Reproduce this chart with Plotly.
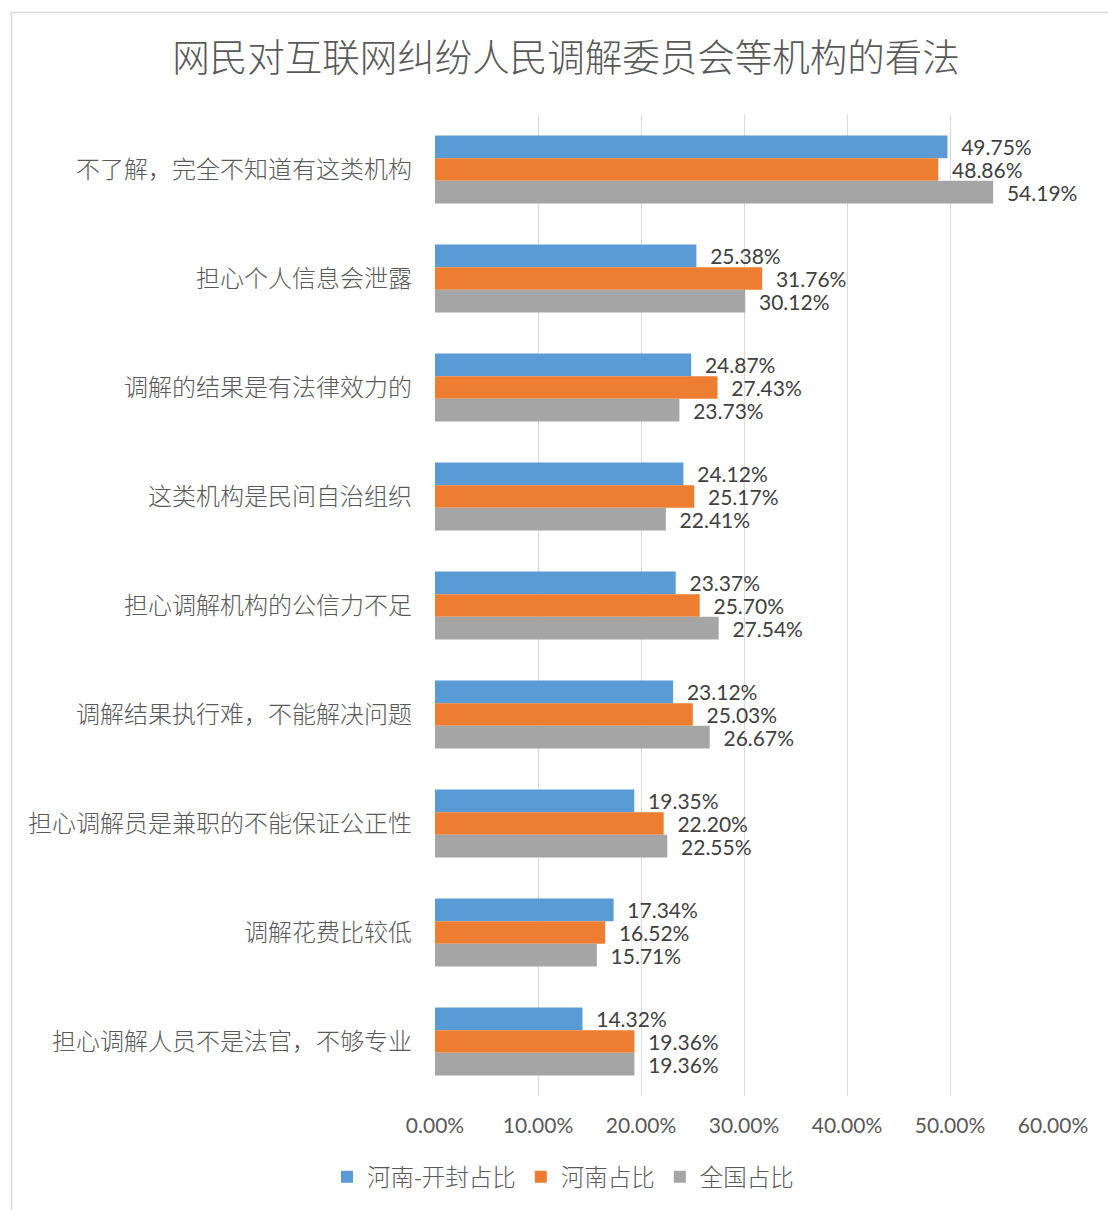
import plotly.graph_objects as go

categories = [
    "不了解，完全不知道有这类机构",
    "担心个人信息会泄露",
    "调解的结果是有法律效力的",
    "这类机构是民间自治组织",
    "担心调解机构的公信力不足",
    "调解结果执行难，不能解决问题",
    "担心调解员是兼职的不能保证公正性",
    "调解花费比较低",
    "担心调解人员不是法官，不够专业",
]
kaifeng = [49.75, 25.38, 24.87, 24.12, 23.37, 23.12, 19.35, 17.34, 14.32]
henan = [48.86, 31.76, 27.43, 25.17, 25.70, 25.03, 22.20, 16.52, 19.36]
national = [54.19, 30.12, 23.73, 22.41, 27.54, 26.67, 22.55, 15.71, 19.36]
series_names = ["河南-开封占比", "河南占比", "全国占比"]
colors = ["#5B9BD5", "#ED7D31", "#A5A5A5"]
tick_vals = [0, 10, 20, 30, 40, 50, 60]
title_text = "网民对互联网纠纷人民调解委员会等机构的看法"

W, H = 1108, 1210
L, R, T, B = 435, 55, 115, 114
pw = W - L - R
ph = H - T - B

CJK = "Noto Sans CJK SC"
NUM = "Lato, Noto Sans CJK SC"

fig = go.Figure()
for name, vals, col in zip(series_names, [kaifeng, henan, national], colors):
    fig.add_trace(go.Bar(
        y=categories, x=vals, name=name, orientation="h",
        marker=dict(color=col, line=dict(width=0)),
        text=[f"{v:.2f}%" for v in vals],
        texttemplate="\u00a0\u00a0%{text}",
        textposition="outside",
        constraintext="none",
        cliponaxis=False,
        textfont=dict(family=NUM, size=21, color="#404040"),
        hoverinfo="skip",
    ))

fig.update_layout(
    width=W, height=H,
    margin=dict(l=L, r=R, t=T, b=B, autoexpand=False),
    paper_bgcolor="white", plot_bgcolor="white",
    barmode="group", bargap=0.376, bargroupgap=0,
    title=dict(text=title_text, x=566 / W, xanchor="center",
               y=1 - 58 / H, yanchor="middle",
               font=dict(family=CJK, size=37.5, color="#595959", weight=300)),
    xaxis=dict(range=[0, 60], tickvals=tick_vals,
               ticktext=[f"{v:.2f}%" for v in tick_vals],
               showgrid=True, gridcolor="#D9D9D9", gridwidth=1,
               zeroline=False, showline=False, ticks="",
               ticklabelstandoff=15,
               tickfont=dict(family=NUM, size=21, color="#595959")),
    yaxis=dict(autorange="reversed", showgrid=False, zeroline=False,
               showline=False, ticks="", ticklabelstandoff=22,
               tickfont=dict(family=CJK, size=24, color="#595959", weight=300)),
    legend=dict(orientation="h", x=(563 - L) / pw, xanchor="center",
                y=-(1177 - (H - B)) / ph, yanchor="middle",
                font=dict(family=CJK, size=23.5, color="#595959", weight=300),
                itemwidth=30, tracegroupgap=0),
    shapes=[dict(type="rect", xref="paper", yref="paper",
                 x0=(11.5 - L) / pw, x1=1.3,
                 y0=-0.3, y1=((H - B) - 12.5) / ph,
                 line=dict(color="#D9D9D9", width=1.5), layer="below")],
)

fig.write_html("out.html")
